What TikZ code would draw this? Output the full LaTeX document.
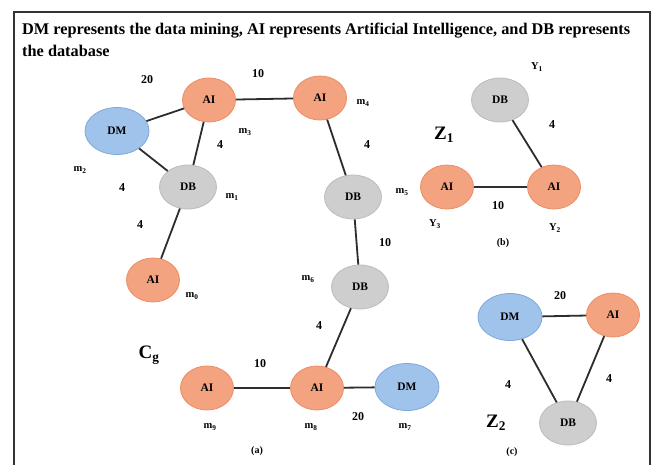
\documentclass[tikz,border=0pt]{standalone}
\usepackage{fontspec}
\setmainfont{Liberation Serif}
\usetikzlibrary{shapes.geometric}
\definecolor{dmfill}{RGB}{160,195,235}
\definecolor{dmedge}{RGB}{125,168,220}
\definecolor{aifill}{RGB}{244,163,128}
\definecolor{aiedge}{RGB}{238,140,100}
\definecolor{dbfill}{RGB}{206,206,206}
\definecolor{dbedge}{RGB}{188,188,188}
\definecolor{edgecol}{RGB}{45,45,45}
\tikzset{
  nd/.style={ellipse, inner sep=0pt, line width=0.8pt, font=\fontsize{11.5}{11.5}\selectfont\bfseries},
  dm/.style={nd, fill=dmfill, draw=dmedge, minimum width=64pt, minimum height=47pt},
  ai/.style={nd, fill=aifill, draw=aiedge, minimum width=53pt, minimum height=44pt},
  db/.style={nd, fill=dbfill, draw=dbedge, minimum width=57pt, minimum height=44pt},
  wt/.style={font=\fontsize{12}{12}\selectfont\bfseries, inner sep=0pt},
  ml/.style={font=\fontsize{10.5}{10.5}\selectfont\bfseries, inner sep=0pt},
  big/.style={font=\fontsize{19}{19}\selectfont\bfseries, inner sep=0pt},
  subcap/.style={font=\fontsize{10}{10}\selectfont\bfseries, inner sep=0pt},
  titletext/.style={anchor=base west, inner sep=0pt, font=\fontsize{16.3}{16.3}\selectfont\bfseries},
  link/.style={draw=edgecol, line width=1.8pt}
}
\begin{document}
\begin{tikzpicture}[x=1pt,y=-1pt]
\useasboundingbox (0,0) rectangle (652,464);
\fill[white] (0,0) rectangle (652,464);
% frame
\draw[line width=2.5pt, black!80] (14,475) -- (14,12) -- (650,12) -- (650,475);
% title
\node[titletext] (t1) at (22,34)
  {DM represents the data mining, AI represents Artificial Intelligence, and DB represents};
\node[titletext] (t2) at (22,56)
  {the database};

% panel (a)
\node[dm] (m2) at (117,131) {DM};
\node[ai] (m3) at (209,100) {AI};
\node[db] (m1) at (188,187) {DB};
\node[ai] (m0) at (153,280) {AI};
\node[ai] (m4) at (320,98) {AI};
\node[db] (m5) at (353,197) {DB};
\node[db] (m6) at (360,287) {DB};
\node[ai] (m8) at (317,388) {AI};
\node[ai] (m9) at (207,388) {AI};
\node[dm] (m7) at (407,387) {DM};

\draw[link] (m2) -- (m3);
\draw[link] (m2) -- (m1);
\draw[link] (m3) -- (m1);
\draw[link] (m1) -- (m0);
\draw[link] (m3) -- (m4);
\draw[link] (m4) -- (m5);
\draw[link] (m5) -- (m6);
\draw[link] (m6) -- (m8);
\draw[link] (m9) -- (m8);
\draw[link] (m8) -- (m7);

\node[wt] (w1) at (147,80) {20};
\node[wt] (w2) at (258,74) {10};
\node[wt] (w3) at (220,145) {4};
\node[wt] (w4) at (122,188) {4};
\node[wt] (w5) at (140,225) {4};
\node[wt] (w6) at (367,145) {4};
\node[wt] (w7) at (385,243) {10};
\node[wt] (w8) at (319,326) {4};
\node[wt] (w9) at (260,364) {10};
\node[wt] (w10) at (358,417) {20};

\node[ml] (l3) at (245,132) {m$_{\mathbf 3}$};
\node[ml] (l2) at (80,170) {m$_{\mathbf 2}$};
\node[ml] (l1) at (232,197) {m$_{\mathbf 1}$};
\node[ml] (l0) at (192,296) {m$_{\mathbf 0}$};
\node[ml] (l4) at (363,103) {m$_{\mathbf 4}$};
\node[ml] (l5) at (402,192) {m$_{\mathbf 5}$};
\node[ml] (l6) at (308,279) {m$_{\mathbf 6}$};
\node[ml] (l9) at (210,427) {m$_{\mathbf 9}$};
\node[ml] (l8) at (311,427) {m$_{\mathbf 8}$};
\node[ml] (l7) at (405,427) {m$_{\mathbf 7}$};

\node[big] (cg) at (149,355) {C$_{\mathbf g}$};
\node[subcap] (ca) at (257,451) {(a)};

% panel (b)
\node[db] (y1) at (500,100) {DB};
\node[ai] (y3) at (447,187) {AI};
\node[ai] (y2) at (554,187) {AI};
\draw[link] (y1) -- (y2);
\draw[link] (y3) -- (y2);
\node[ml] (ly1) at (537,67) {Y$_{\mathbf 1}$};
\node[wt] (wb1) at (552,125) {4};
\node[wt] (wb2) at (498,206) {10};
\node[ml] (ly3) at (435,224) {Y$_{\mathbf 3}$};
\node[ml] (ly2) at (555,228) {Y$_{\mathbf 2}$};
\node[big] (z1) at (444,135) {Z$_{\mathbf 1}$};
\node[subcap] (cb) at (503,243) {(b)};

% panel (c)
\node[dm] (cdm) at (510,317) {DM};
\node[ai] (cai) at (613,315) {AI};
\node[db] (cdb) at (568,423) {DB};
\draw[link] (cdm) -- (cai);
\draw[link] (cdm) -- (cdb);
\draw[link] (cai) -- (cdb);
\node[wt] (wc1) at (560,296) {20};
\node[wt] (wc2) at (508,385) {4};
\node[wt] (wc3) at (609,379) {4};
\node[big] (z2) at (496,423) {Z$_{\mathbf 2}$};
\node[subcap] (cc) at (512,452) {(c)};
\end{tikzpicture}
\end{document}
